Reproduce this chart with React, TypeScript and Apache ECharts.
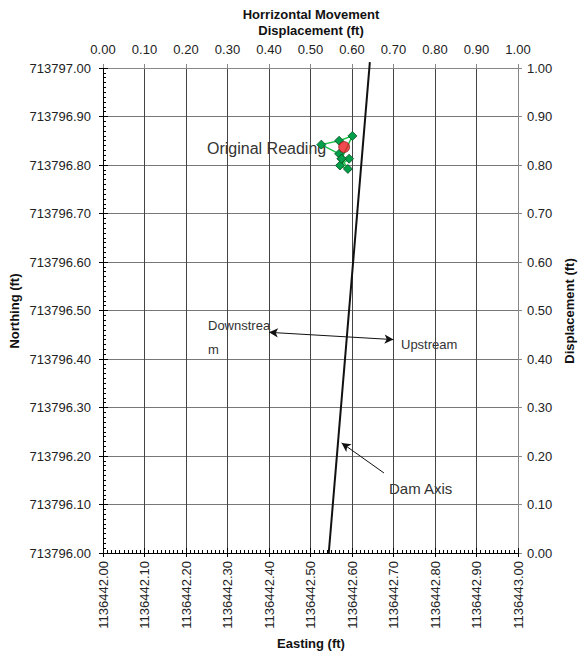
import React, { useEffect, useRef } from "react";
import * as echarts from "echarts";

const eastingTicks = [1136442.0, 1136443.0];
const northingTicks = [713796.0, 713797.0];
const displacementRange = [0, 1];

// readings (displacement x, displacement y), in time order
const readingX = [0.569, 0.526, 0.569, 0.601, 0.575, 0.593, 0.571, 0.59, 0.575];
const readingY = [0.823, 0.842, 0.85, 0.86, 0.813, 0.813, 0.799, 0.792, 0.813];
const originalReading = [0.581, 0.837];
const damAxisX = [0.544, 0.643];
const damAxisY = [0, 1.012];
const flowArrowX = [0.4, 0.7];
const flowArrowY = [0.455, 0.44];
const damArrowX = [0.677, 0.575];
const damArrowY = [0.165, 0.227];

const FONT = "Liberation Sans, Arial, sans-serif";

export default function App() {
  const ref = useRef<HTMLDivElement>(null);
  useEffect(() => {
    document.body.style.margin = "0";
    const chart = echarts.init(ref.current!, null, { renderer: "svg" });
    const labelStyle = { color: "#222", fontSize: 13, fontFamily: FONT };
    const option: any = {
      animation: false,
      backgroundColor: "#fff",
      grid: { left: 103, right: 61, top: 68, bottom: 107, containLabel: false },
      xAxis: [
        {
          type: "value",
          position: "bottom",
          min: eastingTicks[0],
          max: eastingTicks[1],
          interval: 0.1,
          axisLine: { show: true, lineStyle: { color: "#000", width: 1 } },
          axisTick: { show: true, inside: true, length: 5, lineStyle: { color: "#000" } },
          minorTick: { show: true, splitNumber: 10, length: 3, lineStyle: { color: "#000" } },
          splitLine: { show: true, lineStyle: { color: "#444", width: 1 } },
          axisLabel: {
            ...labelStyle,
            rotate: 90,
            margin: 8,
            formatter: (v: number) => v.toFixed(2),
          },
        },
        {
          type: "value",
          position: "top",
          min: displacementRange[0],
          max: displacementRange[1],
          interval: 0.1,
          axisLine: { show: true, lineStyle: { color: "#888" } },
          axisTick: { show: true, inside: false, length: 4, lineStyle: { color: "#888" } },
          splitLine: { show: false },
          axisLabel: { ...labelStyle, margin: 12, formatter: (v: number) => v.toFixed(2) },
        },
        {
          type: "value",
          position: "bottom",
          min: eastingTicks[0],
          max: eastingTicks[1],
          interval: 0.1,
          axisLine: { show: false },
          axisTick: { show: true, inside: false, length: 4, lineStyle: { color: "#000" } },
          splitLine: { show: false },
          axisLabel: { show: false },
        },
      ],
      yAxis: [
        {
          type: "value",
          position: "left",
          min: northingTicks[0],
          max: northingTicks[1],
          interval: 0.1,
          axisLine: { show: true, lineStyle: { color: "#000", width: 1 } },
          axisTick: { show: true, inside: true, length: 5, lineStyle: { color: "#000" } },
          minorTick: { show: true, splitNumber: 10, length: 3, lineStyle: { color: "#000" } },
          splitLine: { show: true, lineStyle: { color: "#777", width: 1 } },
          axisLabel: { ...labelStyle, margin: 12, formatter: (v: number) => v.toFixed(2) },
        },
        {
          type: "value",
          position: "right",
          min: displacementRange[0],
          max: displacementRange[1],
          interval: 0.1,
          axisLine: { show: true, lineStyle: { color: "#888" } },
          axisTick: { show: true, inside: false, length: 4, lineStyle: { color: "#888" } },
          splitLine: { show: false },
          axisLabel: { ...labelStyle, margin: 9, formatter: (v: number) => v.toFixed(2) },
        },
        {
          type: "value",
          position: "left",
          min: northingTicks[0],
          max: northingTicks[1],
          interval: 0.1,
          axisLine: { show: false },
          axisTick: { show: true, inside: false, length: 4, lineStyle: { color: "#000" } },
          splitLine: { show: false },
          axisLabel: { show: false },
        },
      ],
      series: [
        {
          name: "Dam Axis",
          type: "line",
          xAxisIndex: 1,
          yAxisIndex: 1,
          data: damAxisX.map((x, i) => [x, damAxisY[i]]),
          showSymbol: false,
          symbol: "none",
          clip: false,
          lineStyle: { color: "#111", width: 2 },
          z: 3,
        },
        {
          name: "Readings",
          type: "line",
          xAxisIndex: 1,
          yAxisIndex: 1,
          data: readingX.map((x, i) => [x, readingY[i]]),
          symbol: "diamond",
          symbolSize: 9,
          itemStyle: { color: "#00a04a", borderColor: "#0b4a20", borderWidth: 0.8 },
          lineStyle: { color: "#1fc04a", width: 1.5 },
          z: 4,
        },
        {
          name: "Original Reading",
          type: "scatter",
          xAxisIndex: 1,
          yAxisIndex: 1,
          data: [originalReading],
          symbol: "circle",
          symbolSize: 11,
          itemStyle: { color: "#ee1c24", borderColor: "#7a1010", borderWidth: 0.8 },
          z: 5,
        },
        {
          name: "Annotations",
          type: "line",
          xAxisIndex: 1,
          yAxisIndex: 1,
          data: [],
          markLine: {
            silent: true,
            symbolSize: [7, 9],
            label: { show: false },
            lineStyle: { color: "#111", width: 1, type: "solid" },
            data: [
              [
                { coord: [flowArrowX[0], flowArrowY[0]], symbol: "arrow" },
                { coord: [flowArrowX[1], flowArrowY[1]], symbol: "arrow" },
              ],
              [
                { coord: [damArrowX[0], damArrowY[0]], symbol: "none" },
                { coord: [damArrowX[1], damArrowY[1]], symbol: "arrow" },
              ],
            ],
          },
        },
      ],
      graphic: [
        {
          type: "text",
          style: {
            text: "Horrizontal Movement\nDisplacement (ft)",
            x: 311,
            y: 6,
            align: "center",
            verticalAlign: "top",
            font: `bold 13px ${FONT}`,
            lineHeight: 16,
            fill: "#111",
          },
        },
        {
          type: "text",
          style: {
            text: "Easting (ft)",
            x: 311,
            y: 643,
            align: "center",
            verticalAlign: "middle",
            font: `bold 13px ${FONT}`,
            fill: "#111",
          },
        },
        {
          type: "text",
          x: 14,
          y: 311,
          rotation: Math.PI / 2,
          style: {
            text: "Northing (ft)",
            x: 0,
            y: 0,
            align: "center",
            verticalAlign: "middle",
            font: `bold 13px ${FONT}`,
            fill: "#111",
          },
        },
        {
          type: "text",
          x: 569,
          y: 311,
          rotation: Math.PI / 2,
          style: {
            text: "Displacement (ft)",
            x: 0,
            y: 0,
            align: "center",
            verticalAlign: "middle",
            font: `bold 13px ${FONT}`,
            fill: "#111",
          },
        },
        {
          type: "text",
          z: 2,
          style: {
            text: "Original Reading",
            x: 207,
            y: 148,
            align: "left",
            verticalAlign: "middle",
            font: `16px ${FONT}`,
            fill: "#333",
          },
        },
        {
          type: "text",
          style: {
            text: "Downstrea",
            x: 208,
            y: 325,
            align: "left",
            verticalAlign: "middle",
            font: `13px ${FONT}`,
            fill: "#333",
          },
        },
        {
          type: "text",
          style: {
            text: "m",
            x: 208,
            y: 349,
            align: "left",
            verticalAlign: "middle",
            font: `13px ${FONT}`,
            fill: "#333",
          },
        },
        {
          type: "text",
          style: {
            text: "Upstream",
            x: 401,
            y: 344,
            align: "left",
            verticalAlign: "middle",
            font: `13px ${FONT}`,
            fill: "#333",
          },
        },
        {
          type: "text",
          style: {
            text: "Dam Axis",
            x: 389,
            y: 488,
            align: "left",
            verticalAlign: "middle",
            font: `15px ${FONT}`,
            fill: "#333",
          },
        },
      ],
    };
    chart.setOption(option);
    return () => chart.dispose();
  }, []);
  return <div ref={ref} style={{ width: 579, height: 660 }} />;
}
